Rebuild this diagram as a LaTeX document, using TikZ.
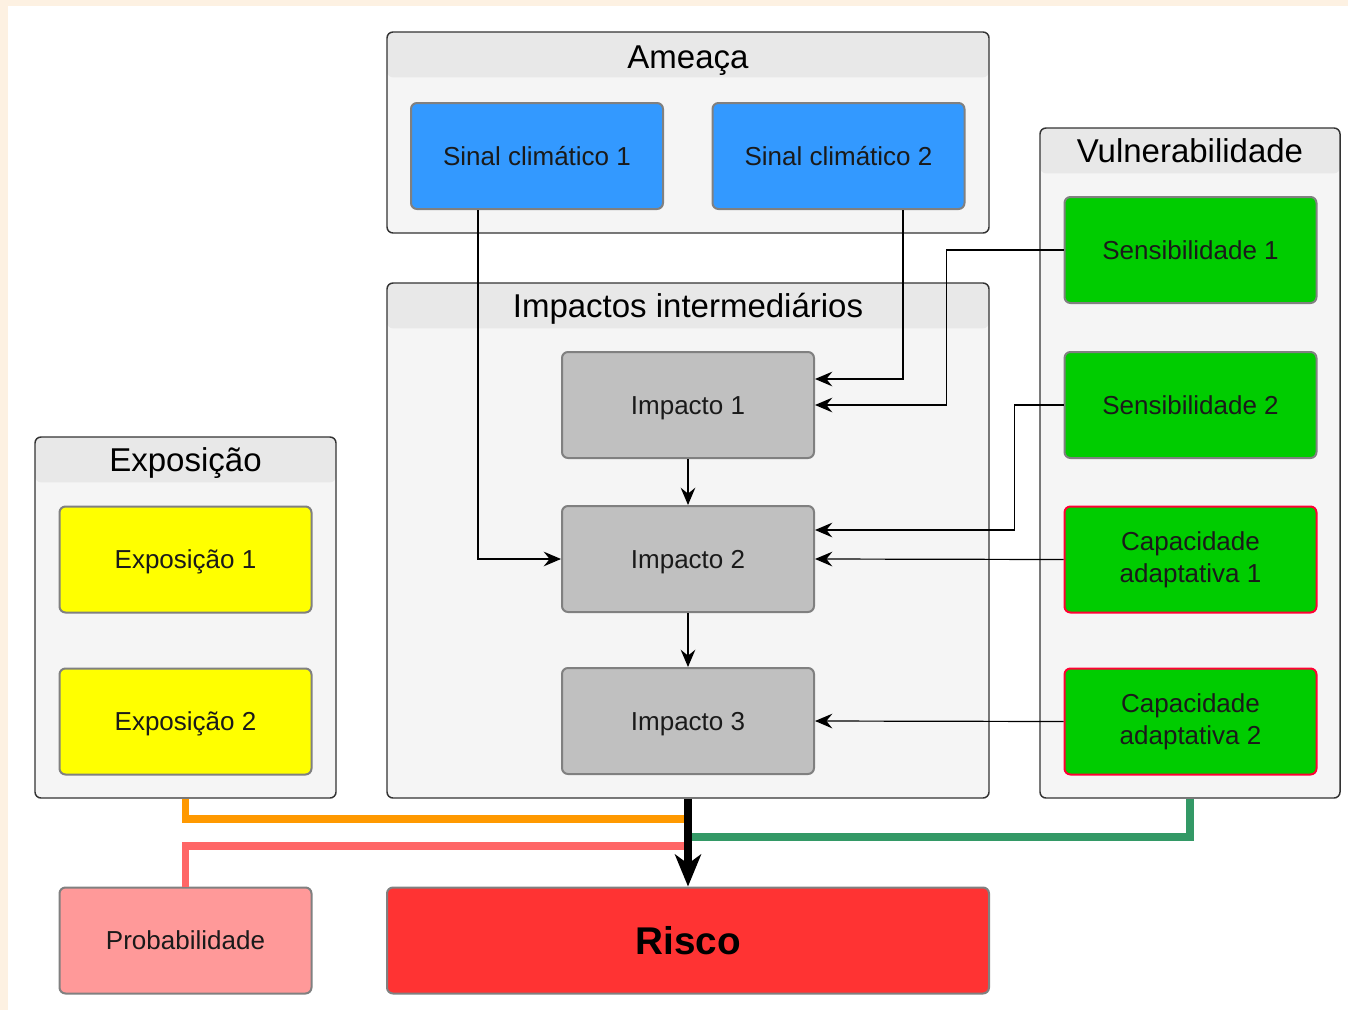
\documentclass[tikz,border=0pt]{standalone}
\usepackage{fontspec}
\setmainfont{Liberation Sans}
\usetikzlibrary{arrows.meta}
\definecolor{beige}{HTML}{FDF1E2}
\definecolor{grpline}{HTML}{333333}
\definecolor{grphead}{HTML}{E8E8E8}
\definecolor{grpbody}{HTML}{F5F5F5}
\definecolor{boxline}{HTML}{808080}
\definecolor{textdark}{HTML}{1A1A1A}
\definecolor{sinalblue}{HTML}{3399FF}
\definecolor{impgray}{HTML}{C0C0C0}
\definecolor{expoyellow}{HTML}{FFFF00}
\definecolor{vulngreen}{HTML}{00CC00}
\definecolor{capred}{HTML}{FF0033}
\definecolor{probpink}{HTML}{FF9999}
\definecolor{riscored}{HTML}{FF3333}
\definecolor{orangeln}{HTML}{FF9900}
\definecolor{pinkln}{HTML}{FF6666}
\definecolor{greenln}{HTML}{339966}
\tikzset{
  >={Stealth[length=13pt,width=11pt,inset=4.5pt]},
  group/.style={rectangle, rounded corners=4.5pt, draw=grpline, line width=1.1pt,
                fill=grpbody, inner sep=0pt,
                path picture={\fill[grphead] (path picture bounding box.north west)
                  rectangle ([yshift=-34pt]path picture bounding box.north east);}},
  grptitle/.style={text=black, font=\fontsize{24.75pt}{30pt}\selectfont,
                   text height=17.8pt, text depth=0pt, inner sep=0pt},
  panel/.style={rectangle, rounded corners=4.5pt, draw=boxline, line width=1.5pt,
                minimum width=189pt, minimum height=79.5pt, inner sep=0pt,
                text=textdark, font=\fontsize{19.5pt}{24pt}\selectfont},
  onebox/.style={panel, text height=14pt, text depth=0pt},
  twobox/.style={panel, align=center},
  conn/.style={draw=black, line width=0.9pt, ->},
  feed/.style={line width=5.5pt},
  riskarrow/.style={draw=black, line width=6pt,
                    -{Stealth[length=24pt,width=19.5pt,inset=7pt]}}
}

\begin{document}
\begin{tikzpicture}[x=0.75pt,y=-0.75pt]
    % Background
    \useasboundingbox (0,0) rectangle (1348,1010);
    \fill[beige] (0,0) rectangle (1348,1010);
    \fill[white] (8,6) rectangle (1348,1010);

    % Draw groups
    \node (ameaca) at (688,132.5) [group, minimum width=451.5pt, minimum height=150.75pt] {};
    \node (impactos) at (688,540.5) [group, minimum width=451.5pt, minimum height=386.25pt] {};
    \node (expo) at (185.5,617.5) [group, minimum width=225.75pt, minimum height=270.75pt] {};
    \node (vulner) at (1190,463) [group, minimum width=225pt, minimum height=502.5pt] {};
    \node (ameacatitle) at (688,57) [grptitle] {Ameaça};
    \node (impactostitle) at (688,306) [grptitle] {Impactos intermediários};
    \node (expotitle) at (185.5,460) [grptitle] {Exposição};
    \node (vulnertitle) at (1190,151) [grptitle] {Vulnerabilidade};

    % Ameaca
    \node (sinal1) at (537,156) [onebox, fill=sinalblue] {Sinal climático 1};
    \node (sinal2) at (838.5,156) [onebox, fill=sinalblue] {Sinal climático 2};

    % Impactos
    \node (imp1) at (688,405) [onebox, fill=impgray] {Impacto 1};
    \node (imp2) at (688,559) [onebox, fill=impgray] {Impacto 2};
    \node (imp3) at (688,721) [onebox, fill=impgray] {Impacto 3};

    % Exposicao
    \node (expo1) at (185.5,559.5) [onebox, fill=expoyellow] {Exposição 1};
    \node (expo2) at (185.5,721.5) [onebox, fill=expoyellow] {Exposição 2};

    % Vulnerabilidade
    \node (sens1) at (1190.5,250) [onebox, fill=vulngreen] {Sensibilidade 1};
    \node (sens2) at (1190.5,405) [onebox, fill=vulngreen] {Sensibilidade 2};
    \node (cap1) at (1190.5,559.5) [twobox, fill=vulngreen, draw=capred] {Capacidade\\adaptativa 1};
    \node (cap2) at (1190.5,721.5) [twobox, fill=vulngreen, draw=capred] {Capacidade\\adaptativa 2};

    % Bottom row
    \node (prob) at (185.5,940.5) [onebox, fill=probpink] {Probabilidade};
    \node (risco) at (688,940.5) [onebox, fill=riscored, minimum width=451.5pt,
          text=black, text height=20.9pt, font=\fontsize{29pt}{34pt}\selectfont\bfseries] {Risco};

    % Draw connectors
    \draw[conn] ([xshift=-44.25pt]sinal1.south) |- (imp2.west);
    \draw[conn] ([xshift=48.4pt]sinal2.south) |- ([yshift=19.5pt]imp1.east);
    \draw[conn] (sens1.west) -- ++(-87.75pt,0) |- (imp1.east);
    \draw[conn] (sens2.west) -- ++(-36.75pt,0) |- ([yshift=21.75pt]imp2.east);
    \draw[conn] (cap1.west) -- (imp2.east);
    \draw[conn] (cap2.west) -- (imp3.east);
    \draw[conn] (imp1.south) -- (imp2.north);
    \draw[conn] (imp2.south) -- (imp3.north);

    % Draw feeds into risk
    \draw[feed, orangeln] (expo.south) |- (risco.north |- 0,819);
    \draw[feed, pinkln] (prob.north) |- (risco.north |- 0,846);
    \draw[feed, greenln] (vulner.south) |- (risco.north |- 0,837);
    \draw[riskarrow] (impactos.south) -- (risco.north);

\end{tikzpicture}
\end{document}
